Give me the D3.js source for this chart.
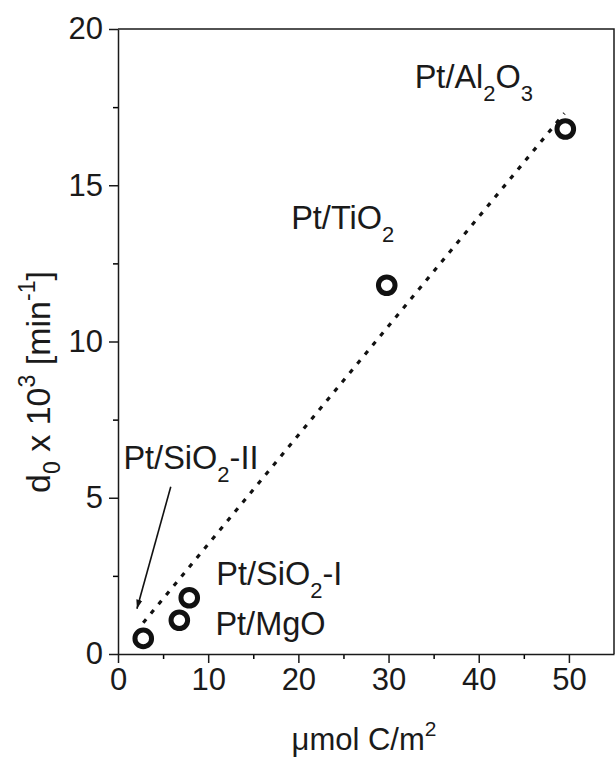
<!DOCTYPE html>
<html>
<head>
<meta charset="utf-8">
<script src="https://cdn.jsdelivr.net/npm/d3@7"></script>
<style>
  body { margin: 0; background: #fff; }
  svg { font-family: "Liberation Sans", Arial, sans-serif; }
</style>
</head>
<body>
<div id="chart"></div>
<script>
// Chart size and margins (plot box is from 118 to 614 and 29 to 654)
const width = 615;
const height = 761;
const margin = {left: 118, right: 1, top: 29, bottom: 107};

// Data
const catalysts = ["Pt/SiO2-II", "Pt/MgO", "Pt/SiO2-I", "Pt/TiO2", "Pt/Al2O3"];
const carbon = [2.8, 6.8, 7.9, 29.8, 49.6];      // umol C/m2
const d0 = [0.5, 1.08, 1.8, 11.8, 16.8];          // d0 x 10^3 [min-1]

// dotted fit line, ends as drawn
const fitX = [2.8, 49.5];
const fitY = [1.0, 17.3];

const xTicks = [0, 10, 20, 30, 40, 50];
const yTicks = [0, 5, 10, 15, 20];

const svg = d3.select("#chart")
  .append("svg")
  .attr("width", width)
  .attr("height", height);

// Scales
const x = d3.scaleLinear()
  .domain([0, 55])
  .range([margin.left, width - margin.right]);

const y = d3.scaleLinear()
  .domain([0, 20])
  .range([height - margin.bottom, margin.top]);

/*

  Axes

*/

// minor ticks first
svg.append("g")
  .attr("transform", `translate(0,${height - margin.bottom})`)
  .call(d3.axisBottom(x).tickValues(d3.range(5, 55, 10)).tickSize(5).tickFormat(""))
  .call(g => g.select(".domain").remove())
  .selectAll("line").attr("stroke-width", 1.5);

svg.append("g")
  .attr("transform", `translate(${margin.left},0)`)
  .call(d3.axisLeft(y).tickValues(d3.range(2.5, 20, 5)).tickSize(5).tickFormat(""))
  .call(g => g.select(".domain").remove())
  .selectAll("line").attr("stroke-width", 1.5);

// major ticks with labels
const xAxis = svg.append("g")
  .attr("transform", `translate(0,${height - margin.bottom})`)
  .call(d3.axisBottom(x).tickValues(xTicks).tickSize(9).tickSizeOuter(0).tickPadding(5));

const yAxis = svg.append("g")
  .attr("transform", `translate(${margin.left},0)`)
  .call(d3.axisLeft(y).tickValues(yTicks).tickSize(9).tickSizeOuter(0).tickPadding(6));

[xAxis, yAxis].forEach(g => {
  g.attr("font-size", "31px").attr("font-family", null);
  g.selectAll("text").attr("fill", "#1a1a1a");
  g.selectAll("line").attr("stroke", "#1a1a1a").attr("stroke-width", 1.5);
  g.select(".domain").attr("stroke", "#1a1a1a").attr("stroke-width", 1.5);
});

// top and right frame lines
svg.append("path")
  .attr("d", `M${x(0)},${y(20)}H${x(55)}V${y(0)}`)
  .attr("fill", "none")
  .attr("stroke", "#1a1a1a")
  .attr("stroke-width", 1.5);

/*

  Fit line and points

*/

svg.append("line")
  .attr("x1", x(fitX[0])).attr("y1", y(fitY[0]))
  .attr("x2", x(fitX[1])).attr("y2", y(fitY[1]))
  .attr("stroke", "#111")
  .attr("stroke-width", 3.2)
  .attr("stroke-dasharray", "4.5,7.5");

svg.selectAll(".pt")
  .data(carbon)
  .enter()
  .append("circle")
    .attr("class", "pt")
    .attr("cx", d => x(d))
    .attr("cy", (d, i) => y(d0[i]))
    .attr("r", 8.3)
    .attr("fill", "none")
    .attr("stroke", "#111")
    .attr("stroke-width", 5);

/*

  Labels

*/

// label anchor in data units, text split into main + subscript parts
const labels = [
  {parts: [["Pt/SiO", 0], ["2", 1], ["-II", 0]], lx: 0.6, ly: 5.92},
  {parts: [["Pt/MgO", 0]], lx: 10.8, ly: 0.6},
  {parts: [["Pt/SiO", 0], ["2", 1], ["-I", 0]], lx: 10.9, ly: 2.2},
  {parts: [["Pt/TiO", 0], ["2", 1]], lx: 19.2, ly: 13.6},
  {parts: [["Pt/Al", 0], ["2", 1], ["O", 0], ["3", 1]], lx: 32.9, ly: 18.1}
];

labels.forEach(l => {
  const t = svg.append("text")
    .attr("x", x(l.lx))
    .attr("y", y(l.ly))
    .attr("font-size", "32.5px")
    .attr("fill", "#1a1a1a");
  let shift = 0;
  l.parts.forEach(p => {
    const s = t.append("tspan").text(p[0]);
    if (p[1]) {
      s.attr("font-size", "22px").attr("dy", 13 - shift);
      shift = 13;
    } else {
      s.attr("dy", -shift);
      shift = 0;
    }
  });
});

// arrow to the SiO2-II point
svg.append("defs").append("marker")
  .attr("id", "head")
  .attr("viewBox", "0 0 10 10")
  .attr("refX", 10).attr("refY", 5)
  .attr("markerWidth", 9).attr("markerHeight", 9)
  .attr("markerUnits", "userSpaceOnUse")
  .attr("orient", "auto")
  .append("path")
    .attr("d", "M0,1.5L10,5L0,8.5Z")
    .attr("fill", "#111");

svg.append("line")
  .attr("x1", x(5.85)).attr("y1", y(5.35))
  .attr("x2", x(2.1)).attr("y2", y(1.45))
  .attr("stroke", "#111")
  .attr("stroke-width", 1.6)
  .attr("marker-end", "url(#head)");

/*

  Axis titles

*/

const xt = svg.append("text")
  .attr("x", 364)
  .attr("y", 750)
  .attr("text-anchor", "middle")
  .attr("font-size", "31px")
  .attr("fill", "#1a1a1a");
xt.append("tspan").text("\u03bcmol C/m");
xt.append("tspan").text("2").attr("font-size", "21px").attr("dy", -14);

const yt = svg.append("text")
  .attr("transform", "translate(50,382) rotate(-90)")
  .attr("text-anchor", "middle")
  .attr("font-size", "34px")
  .attr("fill", "#1a1a1a");
yt.append("tspan").text("d");
yt.append("tspan").text("0").attr("font-size", "23px").attr("dy", 10);
yt.append("tspan").text(" x 10").attr("dy", -10);
yt.append("tspan").text("3").attr("font-size", "23px").attr("dy", -15);
yt.append("tspan").text(" [min").attr("dy", 15);
yt.append("tspan").text("-1").attr("font-size", "23px").attr("dy", -15);
yt.append("tspan").text("]").attr("dy", 15);
</script>
</body>
</html>
